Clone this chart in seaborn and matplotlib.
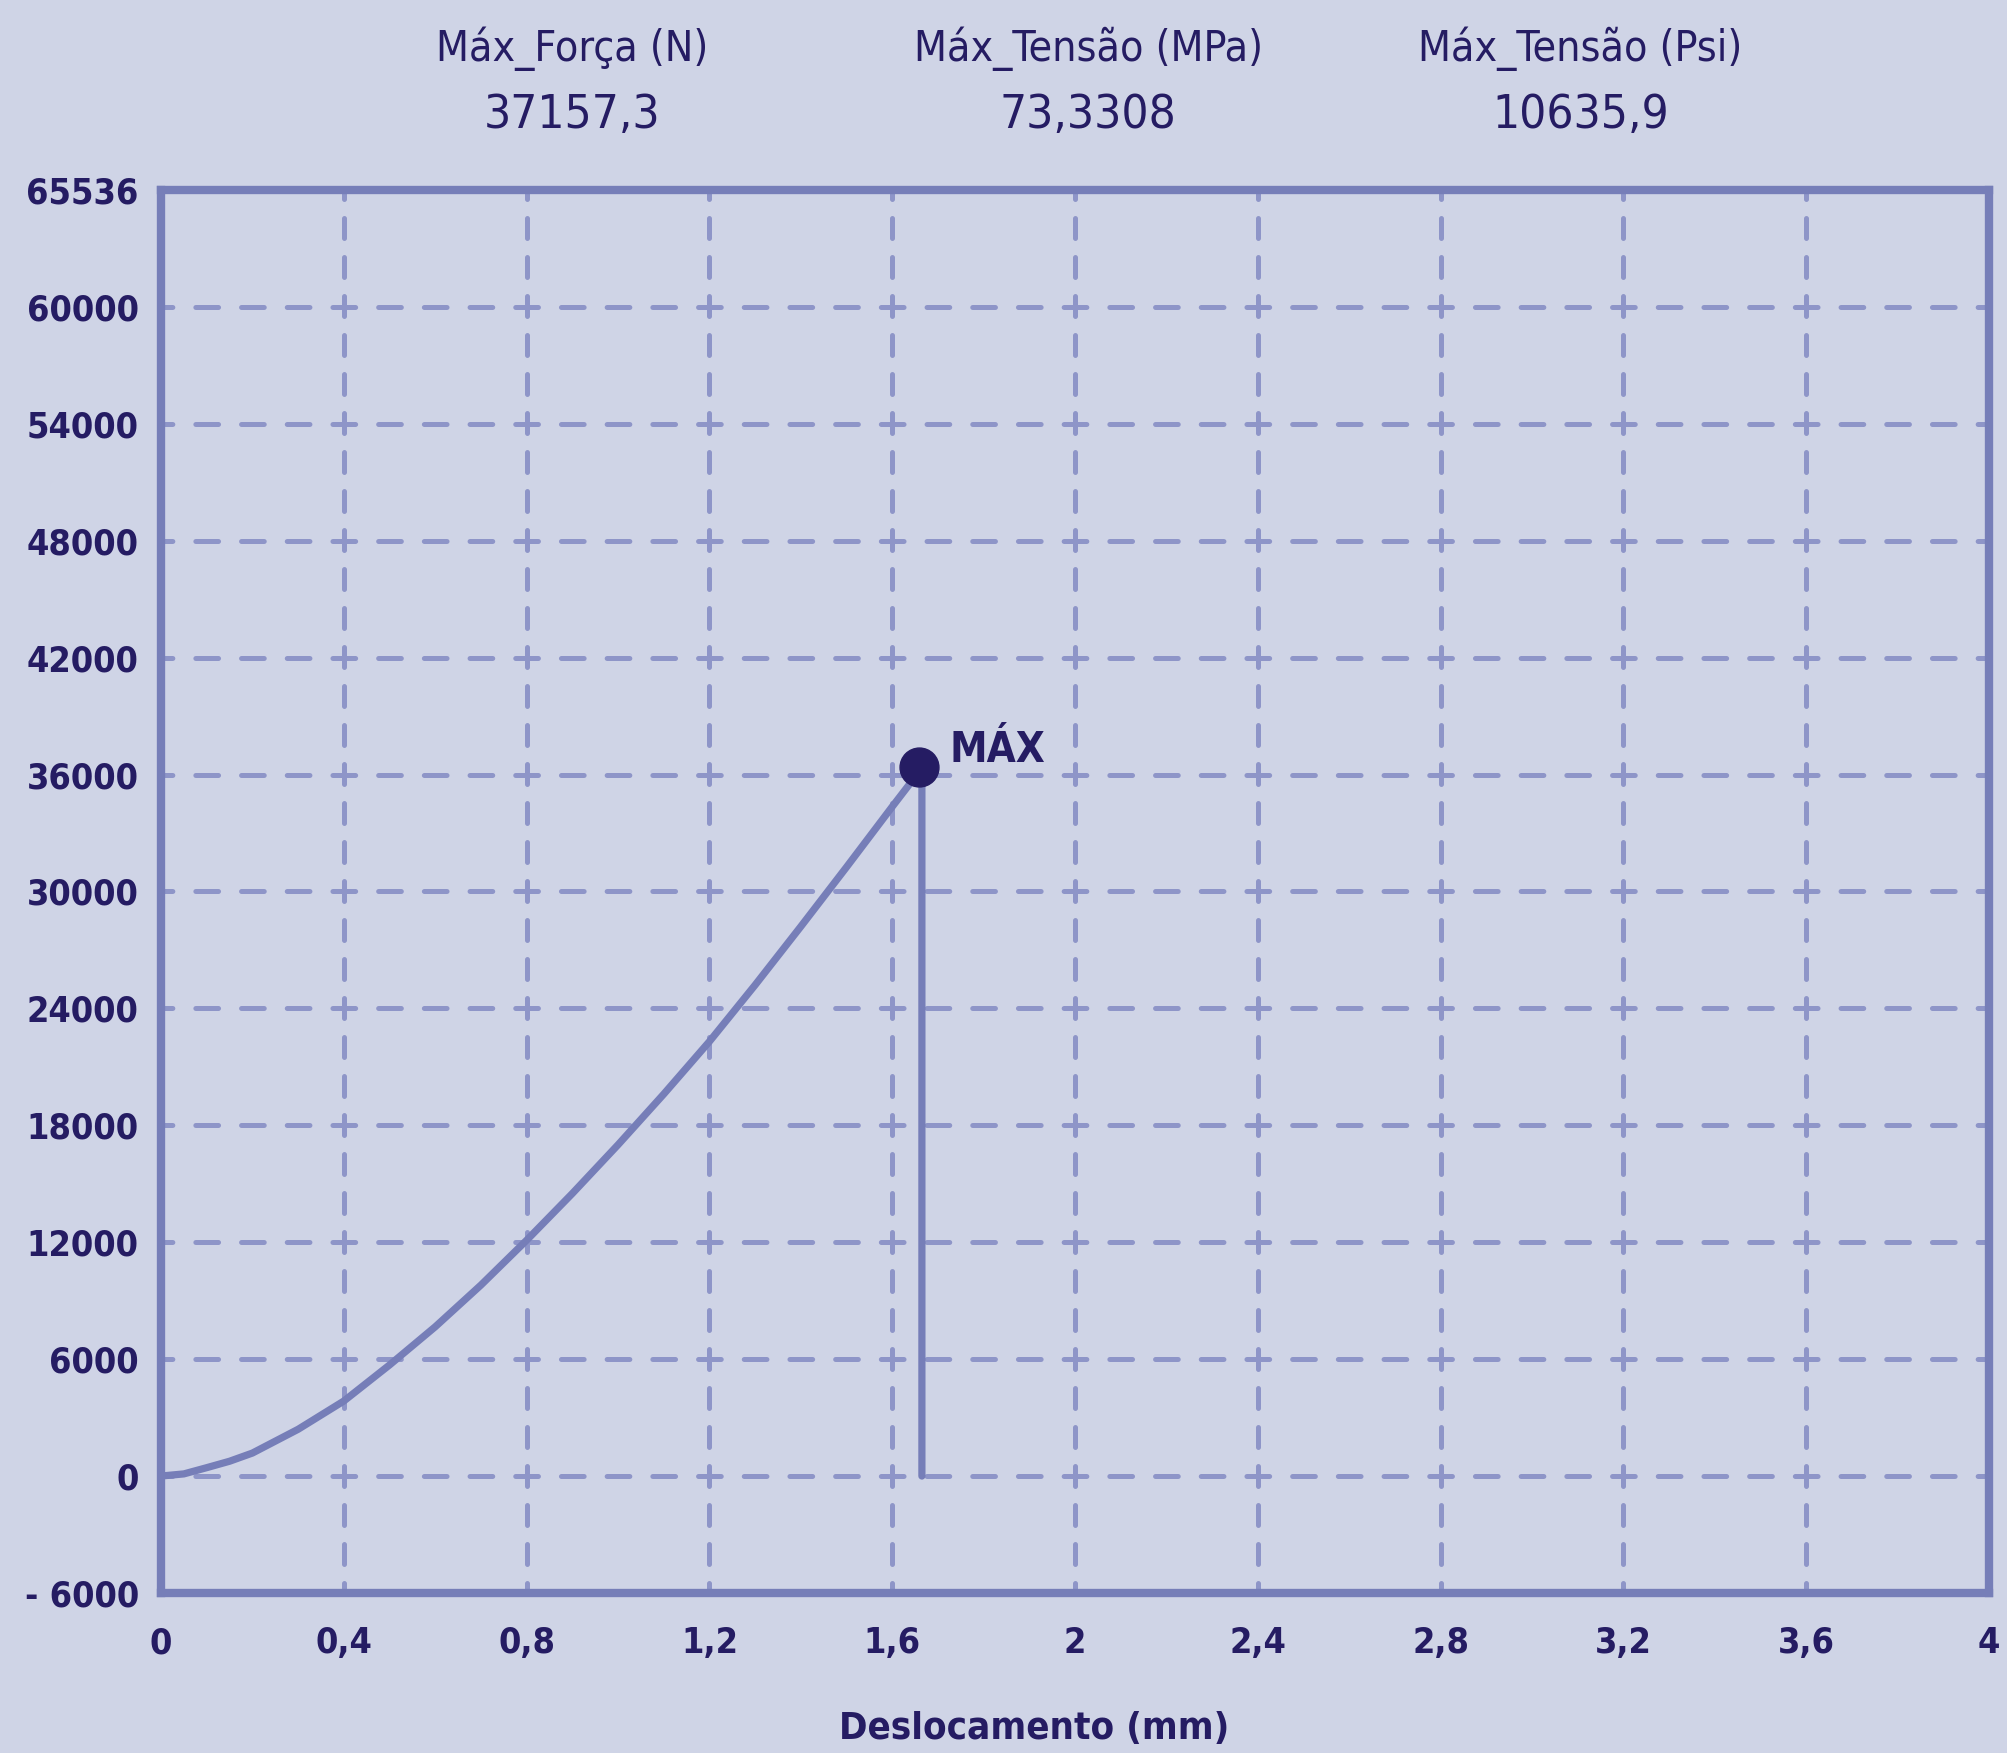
import matplotlib
matplotlib.use('Agg')
import matplotlib.pyplot as plt
import seaborn as sns
import pandas as pd
from matplotlib import font_manager

# curva força x deslocamento
desloc = [0, 0.05, 0.1, 0.15, 0.2, 0.3, 0.4, 0.5, 0.6, 0.7, 0.8, 0.9, 1.0, 1.1,
          1.2, 1.3, 1.4, 1.5, 1.6, 1.659, 1.665, 1.665]
forca = [0, 110, 430, 760, 1180, 2400, 3850, 5700, 7660, 9800, 12100, 14500,
         17000, 19600, 22300, 25200, 28200, 31250, 34350, 36150, 36000, 0]

max_desloc = [1.659]
max_forca = [36410]

x_ticks = [0, 0.4, 0.8, 1.2, 1.6, 2.0, 2.4, 2.8, 3.2, 3.6, 4.0]
x_labels = ['0', '0,4', '0,8', '1,2', '1,6', '2', '2,4', '2,8', '3,2', '3,6', '4']
y_ticks = [-6000, 0, 6000, 12000, 18000, 24000, 30000, 36000, 42000, 48000, 54000, 60000, 66000]
y_labels = ['- 6000', '0', '6000', '12000', '18000', '24000', '30000', '36000',
            '42000', '48000', '54000', '60000', '65536']

header_names = ['Máx_Força (N)', 'Máx_Tensão (MPa)', 'Máx_Tensão (Psi)']
header_values = ['37157,3', '73,3308', '10635,9']

bg = '#CFD4E6'
line_col = '#767EB8'
grid_col = '#8E95C8'
text_col = '#251C63'

sns.set_style('white', {'axes.facecolor': bg, 'figure.facecolor': bg})

# fonte estreita se existir, senão Liberation Sans um pouco menor
ttf = font_manager.fontManager.ttflist
names = {f.name for f in ttf}
allowed = ['Liberation Sans Narrow', 'Liberation Sans', 'Noto Sans', 'Open Sans',
           'Roboto', 'Inter', 'Lato', 'DejaVu Sans']
stretch = 'normal'
if 'Liberation Sans Narrow' in names:
    fam = 'Liberation Sans Narrow'
    sz = dict(head=33, val=41, tick=32, xlab=34, mx=37)
else:
    cond = [f for f in ttf if f.name in allowed and f.stretch in ('condensed', 'semi-condensed')]
    if cond:
        fam, stretch = cond[0].name, cond[0].stretch
        sz = dict(head=30.7, val=34.2, tick=25.8, xlab=27.5, mx=30.2)
    else:
        fam = 'Liberation Sans'
        sz = dict(head=29, val=36, tick=28, xlab=30, mx=32)
plt.rcParams['font.family'] = [fam, 'DejaVu Sans']
plt.rcParams['font.stretch'] = stretch

df = pd.DataFrame({'desloc': desloc, 'forca': forca})

fig = plt.figure(figsize=(20.08, 17.53), dpi=100)
ax = fig.add_axes([0.0802, 0.0913, 0.9103, 0.8003])

sns.lineplot(data=df, x='desloc', y='forca', sort=False, estimator=None,
             color=line_col, lw=5.2, ax=ax, zorder=3, solid_joinstyle='round')
ax.plot(max_desloc, max_forca, 'o', color=text_col, ms=28, zorder=4)
ax.annotate('MÁX', xy=(max_desloc[0], max_forca[0]), xytext=(22, 12),
            textcoords='offset points', ha='left', va='center',
            fontsize=sz['mx'], fontweight='bold', color=text_col)

ax.set_xlim(0, 4)
ax.set_ylim(-6000, 66000)
ax.set_xticks(x_ticks)
ax.set_xticklabels(x_labels)
ax.set_yticks(y_ticks)
ax.set_yticklabels(y_labels)
ax.tick_params(length=0, labelsize=sz['tick'], labelcolor=text_col)
ax.tick_params(axis='x', pad=24)
ax.tick_params(axis='y', pad=16)
for lab in ax.get_xticklabels() + ax.get_yticklabels():
    lab.set_fontweight('bold')

ax.grid(axis='x', color=grid_col, lw=3.6, linestyle=(2.0, (4.0, 3.8)),
        dash_capstyle='round', zorder=1)
ax.grid(axis='y', color=grid_col, lw=3.6, linestyle=(2.27, (4.54, 4.6)),
        dash_capstyle='round', zorder=1)
ax.set_axisbelow(True)

for s in ax.spines.values():
    s.set_visible(True)
    s.set_color(line_col)
    s.set_linewidth(6)
    s.set_capstyle('projecting')

ax.set_xlabel('')
ax.set_ylabel('')
fig.text(0.515, 0.0137, 'Deslocamento (mm)', ha='center', va='center',
         fontsize=sz['xlab'], fontweight='bold', color=text_col)

for xc, name, val in zip([0.285, 0.542, 0.787], header_names, header_values):
    fig.text(xc, 0.972, name, ha='center', va='center', fontsize=sz['head'], color=text_col)
    fig.text(xc, 0.934, val, ha='center', va='center', fontsize=sz['val'], color=text_col)

fig.savefig('out.png', dpi=100, facecolor=bg)
